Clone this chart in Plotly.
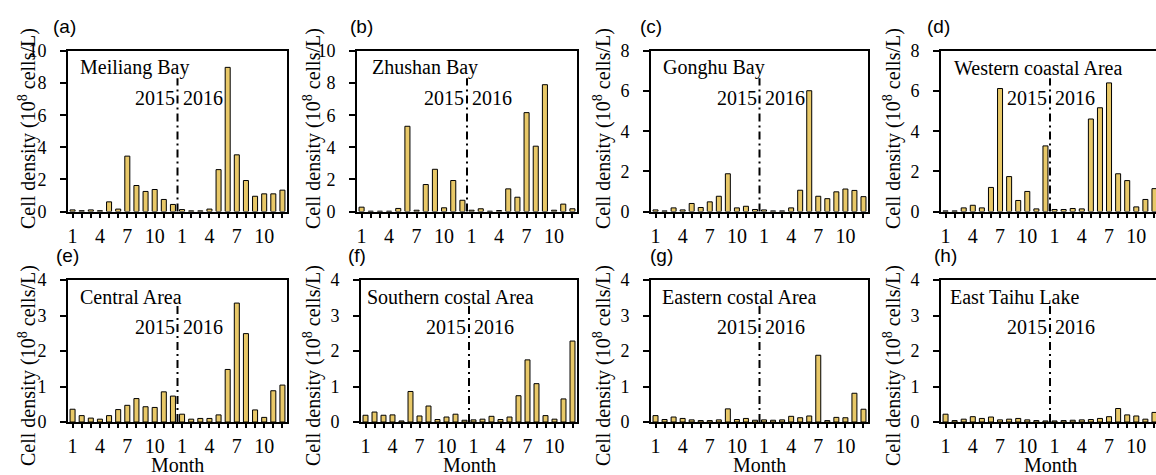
import plotly.graph_objects as go

# ---------------- data (10^8 cells/L), Jan 2015 ... Dec 2016 ----------------
months = list(range(24))
tick_text = ["1", "4", "7", "10", "1", "4", "7", "10"]
tick_pos = [0, 3, 6, 9, 12, 15, 18, 21]

meiliang = [0.10, 0.05, 0.10, 0.05, 0.60, 0.15, 3.45, 1.62, 1.25, 1.37, 0.75, 0.44,
            0.12, 0.04, 0.04, 0.15, 2.61, 8.98, 3.53, 1.93, 0.95, 1.10, 1.10, 1.33]
zhushan = [0.27, 0.02, 0.02, 0.02, 0.19, 5.31, 0.08, 1.68, 2.63, 0.23, 1.93, 0.70,
           0.08, 0.17, 0.02, 0.06, 1.41, 0.89, 6.16, 4.07, 7.90, 0.08, 0.46, 0.17]
gonghu = [0.08, 0.03, 0.18, 0.08, 0.40, 0.20, 0.48, 0.76, 1.88, 0.18, 0.26, 0.10,
          0.08, 0.03, 0.03, 0.18, 1.06, 6.02, 0.76, 0.64, 0.98, 1.12, 1.05, 0.74]
western = [0.03, 0.03, 0.18, 0.31, 0.18, 1.20, 6.13, 1.74, 0.55, 1.00, 0.13, 3.27,
           0.10, 0.10, 0.15, 0.13, 4.61, 5.17, 6.41, 1.88, 1.54, 0.23, 0.60, 1.14]
central = [0.36, 0.18, 0.11, 0.08, 0.18, 0.35, 0.47, 0.66, 0.43, 0.41, 0.85, 0.73,
           0.22, 0.08, 0.10, 0.10, 0.20, 1.48, 3.35, 2.49, 0.34, 0.13, 0.88, 1.04]
southern = [0.19, 0.28, 0.19, 0.20, 0.03, 0.86, 0.17, 0.45, 0.07, 0.14, 0.22, 0.05,
            0.06, 0.08, 0.16, 0.07, 0.14, 0.74, 1.75, 1.08, 0.18, 0.08, 0.65, 2.28]
eastern = [0.18, 0.07, 0.14, 0.10, 0.06, 0.04, 0.04, 0.06, 0.37, 0.07, 0.10, 0.05,
           0.06, 0.05, 0.06, 0.16, 0.12, 0.17, 1.88, 0.04, 0.13, 0.12, 0.81, 0.36]
east_taihu = [0.22, 0.04, 0.08, 0.15, 0.10, 0.14, 0.06, 0.08, 0.10, 0.06, 0.04, 0.03,
              0.03, 0.04, 0.05, 0.06, 0.07, 0.10, 0.15, 0.38, 0.20, 0.17, 0.08, 0.27]

panel_letters = ["(a)", "(b)", "(c)", "(d)", "(e)", "(f)", "(g)", "(h)"]
panel_names = ["Meiliang Bay", "Zhushan Bay", "Gonghu Bay", "Western coastal Area",
               "Central Area", "Southern costal Area", "Eastern costal Area", "East Taihu Lake"]
panel_data = [meiliang, zhushan, gonghu, western, central, southern, eastern, east_taihu]
y_max = [10, 10, 8, 8, 4, 4, 4, 4]
y_step = [2, 2, 2, 2, 1, 1, 1, 1]

# ---------------- layout geometry (pixels) ----------------
W, H = 1156, 475
SERIF = "Liberation Serif, Times New Roman, serif"
SANS = "Liberation Sans, Arial, sans-serif"
BAR_COLOR = "#E8C868"

# plot-area left/right per panel
lefts = [68, 357, 651, 941, 68, 361, 651, 941]
rights = [287, 577, 868, 1159, 287, 577, 868, 1159]
row_top = [51, 280]
row_bot = [211.5, 422]
name_off = [10, 13, 10, 11, 10, 4, 9, 7]
letter_x = [64, 361, 651, 938, 67, 357, 661, 945]
ytitle_x = [27, 312, 602, 892]

fig = go.Figure()

for i in range(8):
    r = i // 4
    c = i % 4
    ax = "" if i == 0 else str(i + 1)
    xa = "x" + ax
    ya = "y" + ax
    L, R = lefts[i], rights[i]
    px_per = (R - L) / 24.0
    right_vis = min(R, W)
    xr = [-0.5, -0.5 + (right_vis - L) / px_per]

    fig.add_trace(go.Bar(
        x=months, y=panel_data[i], xaxis=xa, yaxis=ya, width=0.55,
        marker=dict(color=BAR_COLOR, line=dict(color="black", width=1)),
        showlegend=False, hoverinfo="x+y"))

    fig.layout["xaxis" + ax] = dict(
        domain=[L / W, right_vis / W], anchor=ya, range=xr, automargin=False,
        tickmode="array", tickvals=months,
        ticktext=[tick_text[tick_pos.index(m)] if m in tick_pos else "" for m in months],
        ticks="outside", ticklen=4, tickwidth=1.5, tickcolor="black",
        showline=True, linecolor="black", linewidth=2, mirror=True,
        showgrid=False, zeroline=False,
        tickfont=dict(family=SERIF, size=20, color="black"), ticklabelstandoff=1)
    fig.layout["yaxis" + ax] = dict(
        domain=[1 - row_bot[r] / H, 1 - row_top[r] / H], anchor=xa, automargin=False,
        range=[0, y_max[i]], dtick=y_step[i], tick0=0,
        ticks="outside", ticklen=6, tickwidth=1.5, tickcolor="black",
        showline=True, linecolor="black", linewidth=2, mirror=(c != 3),
        showgrid=False, zeroline=False,
        tickfont=dict(family=SERIF, size=18, color="black"), ticklabelstandoff=10)

    # dividing dash-dot line between 2015 and 2016
    fig.add_shape(type="line", xref=xa, yref=ya + " domain", x0=11.5, x1=11.5,
                  y0=0, y1=0.83, line=dict(color="black", width=2, dash="8px,4px,2px,4px"))

    # region name
    fig.add_annotation(text=panel_names[i], xref="paper", yref="paper",
                       x=(L + name_off[i]) / W, y=1 - (row_top[r] + 16.5) / H,
                       xanchor="left", yanchor="middle", showarrow=False,
                       font=dict(family=SERIF, size=20, color="black"))
    # year labels
    yy = 1 - (row_top[r] + 47) / H
    fig.add_annotation(text="2015", xref=xa, yref="paper", x=11.5, y=yy,
                       xanchor="right", yanchor="middle", xshift=-1, showarrow=False,
                       font=dict(family=SERIF, size=20, color="black"))
    fig.add_annotation(text="2016", xref=xa, yref="paper", x=11.5, y=yy,
                       xanchor="left", yanchor="middle", xshift=3, showarrow=False,
                       font=dict(family=SERIF, size=20, color="black"))
    # panel letter
    fig.add_annotation(text=panel_letters[i], xref="paper", yref="paper",
                       x=letter_x[i] / W, y=1 - (row_top[r] - 25) / H,
                       xanchor="center", yanchor="middle", showarrow=False,
                       font=dict(family=SANS, size=19, color="black"))
    # y-axis title
    fig.add_annotation(text="Cell density (10<sup>8</sup> cells/L)", xref="paper", yref="paper",
                       x=ytitle_x[c] / W, y=1 - (129 if r == 0 else 366) / H,
                       xanchor="center", yanchor="middle", textangle=-90, showarrow=False,
                       font=dict(family=SERIF, size=20, color="black"))
    if r == 1:
        fig.add_annotation(text="Month", xref="paper", yref="paper",
                           x=(L + min(R, W)) / 2 / W if c != 3 else (L + 109) / W,
                           y=1 - 465 / H, xanchor="center", yanchor="middle", showarrow=False,
                           font=dict(family=SERIF, size=20, color="black"))

fig.update_layout(width=W, height=H, margin=dict(l=0, r=0, t=0, b=0, pad=0),
                  plot_bgcolor="white", paper_bgcolor="white", bargap=0.45)

fig.write_html("out.html", config={"displayModeBar": False},
               post_script="document.body.style.margin='0';document.body.style.overflow='hidden';")
